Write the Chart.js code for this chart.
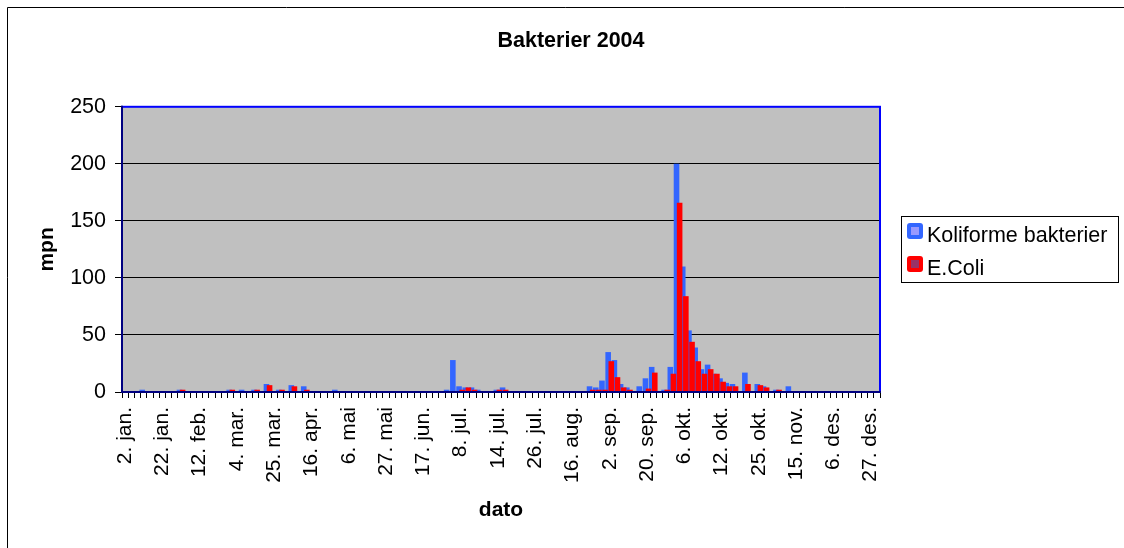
<!DOCTYPE html>
<html>
<head>
<meta charset="utf-8">
<title>Bakterier 2004</title>
<script src="https://cdn.jsdelivr.net/npm/chart.js@4/dist/chart.umd.min.js"></script>
<style>
  html, body { margin: 0; padding: 0; background: #fff; }
</style>
</head>
<body>
<canvas id="bakterierChart" width="1124" height="548"></canvas>
<script>
// axis labels, one every 6th sample
const tickLabels = [
  '2. jan.', '22. jan.', '12. feb.', '4. mar.', '25. mar.', '16. apr.', '6. mai',
  '27. mai', '17. jun.', '8. jul.', '14. jul.', '26. jul.', '16. aug.', '2. sep.',
  '20. sep.', '6. okt.', '12. okt.', '25. okt.', '15. nov.', '6. des.', '27. des.'
];
const labelEvery = 6;

// mpn per sample (122 samples)
const koliforme = [
  0, 0, 0, 2, 0, 0, 0, 0, 0, 2, 0, 0,
  0, 0, 0, 0, 0, 2, 0, 2, 0, 2, 0, 7,
  0, 2, 0, 6, 0, 5, 0, 0, 0, 0, 2, 0,
  0, 0, 0, 0, 0, 0, 0, 0, 0, 0, 0, 0,
  0, 0, 0, 0, 2, 28, 5, 4, 4, 2, 0, 0,
  2, 4, 0, 0, 0, 0, 0, 0, 0, 0, 0, 0,
  0, 0, 0, 5, 4, 10, 35, 28, 7, 4, 0, 5,
  12, 22, 0, 2, 22, 200, 110, 54, 39, 20, 24, 16,
  12, 8, 7, 0, 17, 0, 7, 5, 0, 2, 0, 5,
  0, 0, 0, 0, 0, 0, 0, 0, 0, 0, 0, 0,
  0, 0
];
const eColi = [
  0, 0, 0, 0, 0, 0, 0, 0, 0, 2, 0, 0,
  0, 0, 0, 0, 0, 2, 0, 0, 0, 2, 0, 6,
  0, 2, 0, 5, 0, 2, 0, 0, 0, 0, 0, 0,
  0, 0, 0, 0, 0, 0, 0, 0, 0, 0, 0, 0,
  0, 0, 0, 0, 0, 0, 2, 4, 2, 0, 0, 0,
  2, 2, 0, 0, 0, 0, 0, 0, 0, 0, 0, 0,
  0, 0, 0, 2, 2, 2, 27, 13, 4, 2, 0, 0,
  3, 17, 0, 2, 16, 166, 84, 44, 27, 16, 20, 16,
  9, 5, 5, 0, 7, 0, 6, 4, 0, 2, 0, 0,
  0, 0, 0, 0, 0, 0, 0, 0, 0, 0, 0, 0,
  0, 0
];

const categories = koliforme.map((v, i) => i % labelEvery === 0 ? tickLabels[i / labelEvery] : '');

Chart.defaults.font.family = "'Liberation Sans', Arial, sans-serif";
Chart.defaults.color = '#000';

// excel-ish frame, grey plot area, legend box
const excelLook = {
  id: 'excelLook',
  beforeDraw(chart) {
    const { ctx, chartArea: a } = chart;
    ctx.save();
    ctx.fillStyle = '#fff';
    ctx.fillRect(0, 0, chart.width, chart.height);
    ctx.fillStyle = '#C0C0C0';
    ctx.fillRect(a.left, a.top, a.right - a.left, a.bottom - a.top);
    ctx.restore();
  },
  // draw series in dataset order so E.Coli ends up on top
  beforeDatasetsDraw(chart) {
    chart.getSortedVisibleDatasetMetas().forEach(m => m.controller.draw());
    return false;
  },
  afterDraw(chart) {
    const { ctx, chartArea: a } = chart;
    ctx.save();
    ctx.lineWidth = 2;
    ctx.strokeStyle = '#0000FF';
    ctx.strokeRect(a.left, a.top, a.right - a.left, a.bottom - a.top);
    ctx.strokeStyle = '#000080';
    ctx.beginPath();
    ctx.moveTo(a.left, a.top - 1);
    ctx.lineTo(a.left, a.bottom);
    ctx.lineTo(a.right + 1, a.bottom);
    ctx.stroke();

    // outer chart border
    ctx.lineWidth = 1;
    ctx.strokeStyle = '#000';
    ctx.beginPath();
    ctx.moveTo(7.5, chart.height);
    ctx.lineTo(7.5, 7.5);
    ctx.lineTo(chart.width, 7.5);
    ctx.stroke();

    // legend
    ctx.strokeRect(901.5, 216.5, 217, 66);
    ctx.font = "21.5px 'Liberation Sans', Arial, sans-serif";
    ctx.textBaseline = 'alphabetic';
    chart.data.datasets.forEach((ds, i) => {
      const y = 223 + i * 33;
      ctx.fillStyle = ds.backgroundColor;
      ctx.beginPath();
      ctx.roundRect(907, y, 16, 16, 3);
      ctx.fill();
      ctx.fillStyle = ds.keyInner;
      ctx.fillRect(911, y + 4, 8, 8);
      ctx.fillStyle = '#000';
      ctx.fillText(ds.label, 927, y + 18.5);
    });
    ctx.restore();
  }
};

const config = {
  type: 'bar',
  data: {
    labels: categories,
    datasets: [
      { label: 'Koliforme bakterier', data: koliforme, backgroundColor: '#3366FF', keyInner: '#9999FF' },
      { label: 'E.Coli', data: eColi, backgroundColor: '#FF0000', keyInner: '#993366' }
    ]
  },
  options: {
    responsive: false,
    animation: false,
    events: [],
    datasets: { bar: { categoryPercentage: 1, barPercentage: 1.8 } },
    layout: { padding: { left: 20, right: 2, top: 0, bottom: 0 } },
    plugins: {
      legend: { display: false },
      tooltip: { enabled: false },
      title: {
        display: true,
        text: 'Bakterier 2004',
        color: '#000',
        font: { size: 21.5, weight: 'bold' },
        padding: { top: 28, bottom: 53 }
      }
    },
    scales: {
      x: {
        offset: true,
        grid: { drawOnChartArea: false, offset: true, tickLength: 6, color: '#000' },
        border: { display: false },
        ticks: { autoSkip: false, minRotation: 90, maxRotation: 90, padding: 9, font: { size: 21 } },
        title: { display: true, text: 'dato', font: { size: 21, weight: 'bold' }, padding: { top: 0, bottom: 25 } },
        afterFit: s => { s.height = 156; }
      },
      y: {
        min: 0,
        max: 250,
        ticks: { stepSize: 50, padding: 9, font: { size: 21.5 } },
        grid: { color: '#000', tickLength: 7 },
        border: { display: false },
        title: { display: true, text: 'mpn', font: { size: 21, weight: 'bold' }, padding: { top: 15, bottom: 0 } },
        afterFit: s => { s.width = 102; }
      },
      // keeps room on the right for the legend box
      legendSpace: {
        type: 'linear',
        position: 'right',
        grid: { display: false },
        border: { display: false },
        ticks: { display: false },
        afterFit: s => { s.width = 242; }
      }
    }
  },
  plugins: [excelLook]
};

const bakterierChart = new Chart(document.getElementById('bakterierChart'), config);
</script>
</body>
</html>
